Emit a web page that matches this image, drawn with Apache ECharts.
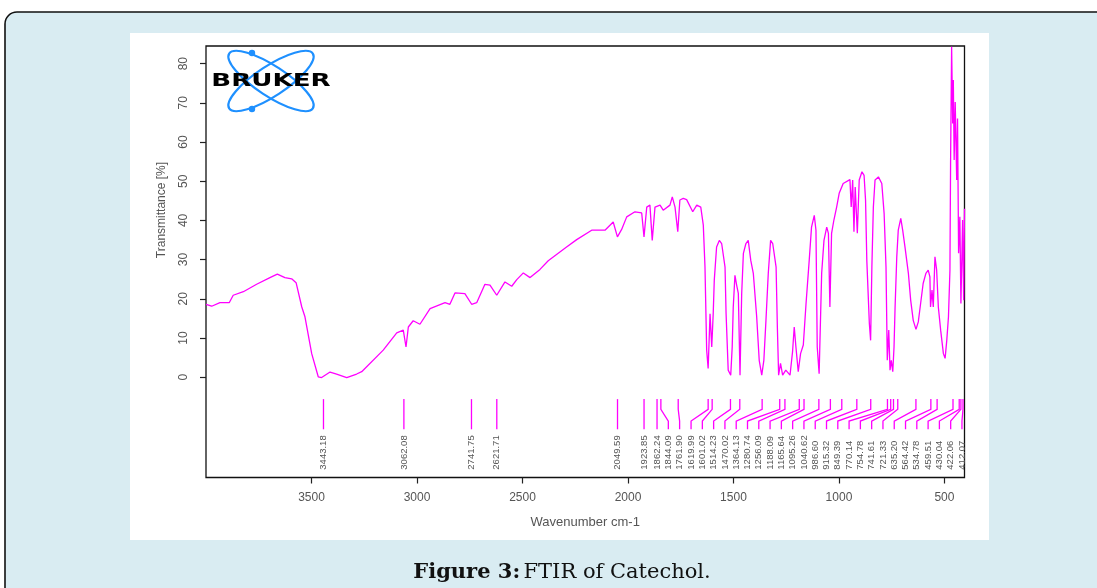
<!DOCTYPE html>
<html><head><meta charset="utf-8">
<script src="https://cdn.jsdelivr.net/npm/echarts@6/dist/echarts.min.js"></script>
<style>html,body{margin:0;padding:0;background:#fff}#c{width:1097px;height:588px}</style>
</head><body><div id="c"></div>
<script>
// ---- spectrum ----
const WAVENUMBER = [4000,3973,3934,3890,3871,3823,3760,3697,3662,3626,3594,3573,3546,3531,3499,3468,3452,3412,3381,3333,3286,3262,3160,3096,3065,3052,3041,3018,2986,2938,2867,2844,2820,2773,2741,2717,2678,2654,2622,2583,2551,2527,2496,2464,2417,2378,2291,2243,2172,2109,2070,2050,2030,2006,1967,1935,1924,1911,1896,1885,1872,1848,1833,1801,1790,1777,1764,1754,1738,1722,1693,1674,1655,1643,1635,1627,1620,1611,1603,1596,1591,1580,1567,1556,1540,1535,1525,1513,1506,1501,1493,1485,1477,1469,1461,1453,1441,1430,1418,1406,1390,1378,1366,1356,1346,1335,1324,1314,1298,1292,1286,1277,1267,1252,1232,1220,1212,1204,1193,1182,1169,1156,1141,1130,1117,1109,1103,1094,1082,1071,1058,1050,1043,1035,1024,1011,999,980,948,942,935,929,923,913,904,891,881,874,868,856,850,844,837,829,813,797,786,777,771,764,758,752,745,739,734,726,719,707,698,687,671,660,648,635,624,613,601,588,577,569,566,559,553,545,537,529,518,505,497,489,481,474,471,466,461,458,454,449,442,438,433,427,422,414,409,405];
const TRANSMITTANCE = [18.6,18.1,19.0,19.0,20.9,21.8,23.7,25.4,26.3,25.4,25.1,24.1,17.9,15.4,6.0,0.1,-0.1,1.3,0.8,-0.1,0.8,1.4,6.9,11.3,12.0,7.7,12.8,14.4,13.5,17.5,19.0,18.6,21.5,21.3,18.6,19.0,23.7,23.5,20.9,24.3,23.2,24.9,26.6,25.4,27.5,29.7,33.2,35.1,37.5,37.5,39.6,35.8,37.7,40.9,42.2,41.9,35.8,43.4,43.9,34.9,43.4,43.9,42.6,43.9,46.0,43.4,37.1,45.2,45.6,45.3,42.2,43.9,43.4,38.8,28.1,6.9,2.2,16.2,7.7,16.2,24.7,33.2,34.9,34.1,28.1,16.2,1.8,0.5,7.7,17.9,26.0,23.5,21.4,0.5,21.4,31.6,34.1,34.9,29.8,26.5,15.4,4.3,0.5,4.3,14.5,26.5,34.9,34.1,28.1,12.8,0.5,3.5,0.5,1.8,0.5,6.5,12.8,7.7,1.4,6.0,8.2,18.8,29.8,38.3,41.3,37.5,7.7,0.9,26.5,34.9,38.3,36.7,17.9,36.7,40.1,43.4,46.9,49.4,50.4,43.4,50.3,37.1,48.5,36.7,50.3,52.4,51.5,45.2,29.8,13.7,9.4,28.1,43.4,50.3,51.1,49.4,41.8,28.1,4.3,12.0,1.8,4.3,1.4,7.7,17.9,30.7,37.5,40.5,37.5,33.2,26.5,19.6,14.5,12.2,14.1,18.8,23.9,26.5,27.3,25.6,17.9,22.2,17.9,30.7,27.3,17.9,12.0,6.0,4.8,9.4,15.4,27.3,54.5,84.3,64.7,75.8,55.4,70.2,50.3,66.0,31.6,40.9,18.8,40.1,19.6,43.0];

// ---- picked peaks ----
const PEAK_WAVENUMBERS = [3443.18,3062.08,2741.75,2621.71,2049.59,1923.85,1862.24,1844.09,1761.90,1619.99,1601.02,1514.23,1470.02,1364.13,1280.74,1256.09,1188.09,1165.64,1095.26,1040.62,986.60,915.32,849.39,770.14,754.78,741.61,721.33,635.20,564.42,534.78,459.51,430.04,422.06,412.07];
const PEAK_LABELS = ["3443.18","3062.08","2741.75","2621.71","2049.59","1923.85","1862.24","1844.09","1761.90","1619.99","1601.02","1514.23","1470.02","1364.13","1280.74","1256.09","1188.09","1165.64","1095.26","1040.62","986.60","915.32","849.39","770.14","754.78","741.61","721.33","635.20","564.42","534.78","459.51","430.04","422.06","412.07"];

// ---- ticks ----
const X_TICKS = [3500,3000,2500,2000,1500,1000,500];
const Y_TICKS = [0,10,20,30,40,50,60,70,80];

// label spreading (in wavenumber units)
const GAP = 53.5, RIGHT_LIMIT = 417;
const n = PEAK_WAVENUMBERS.length;
const labelPos = PEAK_WAVENUMBERS.slice();
for (let i = 1; i < n; i++) labelPos[i] = Math.min(labelPos[i], labelPos[i-1] - GAP);
labelPos[n-1] = Math.max(labelPos[n-1], RIGHT_LIMIT);
for (let i = n - 2; i >= 0; i--) labelPos[i] = Math.max(labelPos[i], labelPos[i+1] + GAP);

const Y_TOP = -5.6, Y_B1 = -8.2, Y_B2 = -11.2, Y_BOT = -13.3, Y_TXT = -23.6;

const spectrum = WAVENUMBER.map((w, i) => [w, TRANSMITTANCE[i]]);
const peakData = PEAK_WAVENUMBERS.map((w, i) => [w, labelPos[i]]);

const MAG = '#ff00ff', GREY = '#555';
const chart = echarts.init(document.getElementById('c'), null, {renderer: 'canvas'});
chart.setOption({
  animation: false,
  backgroundColor: '#ffffff',
  graphic: [
    {type: 'rect', z: -20, shape: {x: 5, y: 12, width: 1100, height: 600, r: [12, 0, 0, 0]},
     style: {fill: '#d9ecf2', stroke: '#111', lineWidth: 1.6}},
    {type: 'rect', z: -19, shape: {x: 130, y: 33, width: 859, height: 507}, style: {fill: '#ffffff'}},
    {type: 'text', x: 162, y: 210, rotation: Math.PI / 2,
     style: {text: 'Transmittance [%]', align: 'center', verticalAlign: 'middle', fill: GREY,
             font: '12px "Liberation Sans", Arial, sans-serif'}},
    // logo
    {type: 'group', x: 271, y: 81, z: 10, children: [
      {type: 'ellipse', rotation: 0.58, shape: {cx: 0, cy: 0, rx: 50, ry: 15},
       style: {fill: null, stroke: '#1e90ff', lineWidth: 2.2}},
      {type: 'ellipse', rotation: -0.58, shape: {cx: 0, cy: 0, rx: 50, ry: 15},
       style: {fill: null, stroke: '#1e90ff', lineWidth: 2.2}},
      {type: 'circle', shape: {cx: -19, cy: -28, r: 3.2}, style: {fill: '#1e90ff'}},
      {type: 'circle', shape: {cx: -19, cy: 28, r: 3.2}, style: {fill: '#1e90ff'}},
      {type: 'text', x: 0, y: 0, scaleX: 1.45, z2: 5,
       style: {text: 'BRUKER', align: 'center', verticalAlign: 'middle', fill: '#000',
               font: '900 18px "DejaVu Sans", sans-serif'}}
    ]},
    {type: 'text', x: 562, y: 573,
     style: {text: '{b|Figure 3:} {n|FTIR of Catechol.}', align: 'center', verticalAlign: 'middle',
             rich: {b: {font: 'bold 21px "DejaVu Serif", serif', fill: '#111'},
                    n: {font: '21px "DejaVu Serif", serif', fill: '#111'}}}}
  ],
  grid: {left: 206, top: 46, right: 132.5, bottom: 110.5, show: true,
         borderColor: '#111', borderWidth: 1.3, backgroundColor: '#fff'},
  xAxis: {
    type: 'value', inverse: true, min: 405, max: 4000,
    axisLine: {show: false, onZero: false},
    axisTick: {show: true, length: 6, customValues: X_TICKS, lineStyle: {color: '#222', width: 1.2}},
    axisLabel: {customValues: X_TICKS, margin: 14, color: GREY, fontSize: 12,
                formatter: v => String(v),
                fontFamily: '"Liberation Sans", Arial, sans-serif'},
    splitLine: {show: false},
    name: 'Wavenumber cm-1', nameLocation: 'middle', nameGap: 38,
    nameTextStyle: {color: GREY, fontSize: 13, fontFamily: '"Liberation Sans", Arial, sans-serif'}
  },
  yAxis: {
    type: 'value', min: -25.6, max: 84.5,
    axisLine: {show: false, onZero: false},
    axisTick: {show: true, length: 6, customValues: Y_TICKS, lineStyle: {color: '#222', width: 1.2}},
    axisLabel: {customValues: Y_TICKS, rotate: 90, margin: 16, color: GREY, fontSize: 12,
                formatter: v => String(v),
                fontFamily: '"Liberation Sans", Arial, sans-serif'},
    splitLine: {show: false}
  },
  series: [
    {type: 'line', data: spectrum, showSymbol: false, symbol: 'none', smooth: false,
     lineStyle: {color: MAG, width: 1.3}, clip: true},
    {type: 'custom', data: peakData, clip: false,
     renderItem: function (params, api) {
       const x0 = api.value(0), xl = api.value(1);
       const pts = [api.coord([x0, Y_TOP]), api.coord([x0, Y_B1]), api.coord([xl, Y_B2]), api.coord([xl, Y_BOT])];
       const t = api.coord([xl, Y_TXT]);
       return {type: 'group', children: [
         {type: 'polyline', shape: {points: pts}, style: {stroke: MAG, lineWidth: 1.3, fill: null}},
         {type: 'text', x: t[0], y: t[1], rotation: Math.PI / 2,
          style: {text: PEAK_LABELS[params.dataIndex], align: 'left', verticalAlign: 'middle',
                  fill: GREY, font: '9.5px "Liberation Sans", Arial, sans-serif'}}
       ]};
     }}
  ]
});
</script></body></html>
